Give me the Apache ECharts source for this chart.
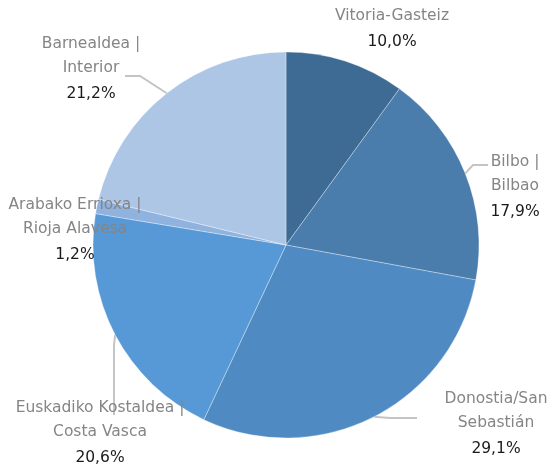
<!DOCTYPE html>
<html>
<head>
<meta charset="utf-8">
<script src="https://cdn.jsdelivr.net/npm/echarts@6/dist/echarts.min.js"></script>
<style>
  html, body { margin: 0; padding: 0; background: #fff; }
  #main { width: 552px; height: 468px; }
</style>
</head>
<body>
<div id="main"></div>
<script>
// datos
var names = ['Vitoria-Gasteiz', 'Bilbo | Bilbao', 'Donostia/San Sebastián',
    'Euskadiko Kostaldea | Costa Vasca', 'Arabako Errioxa | Rioja Alavesa', 'Barnealdea | Interior'];
var labelLines = [
    ['Vitoria-Gasteiz'],
    ['Bilbo |', 'Bilbao'],
    ['Donostia/San', 'Sebastián'],
    ['Euskadiko Kostaldea |', 'Costa Vasca'],
    ['Arabako Errioxa |', 'Rioja Alavesa'],
    ['Barnealdea |', 'Interior']
];
var values = [10.0, 17.9, 29.1, 20.6, 1.2, 21.2];
var colors = ['#3e6b94', '#4a7cac', '#4f8bc2', '#5799d6', '#8fb2df', '#adc6e6'];

// posicion de etiquetas (centro x, top y) y codo / fin de la linea
var labelX = [392, 515, 496, 100, 75, 91];
var labelY = [4, 150, 387, 396, 193, 32];
var lineMid = [null, [473, 165], [390, 418], [114, 345], null, [140, 76]];
var lineEnd = [null, [488, 165], [417, 418], [114, 415], null, [125, 76]];

var chart = echarts.init(document.getElementById('main'));

var seriesData = names.map(function (n, i) {
    return {
        name: n,
        value: values[i],
        itemStyle: { color: colors[i] },
        labelLine: { show: lineMid[i] != null }
    };
});

var option = {
    animation: false,
    series: [{
        type: 'pie',
        center: [286, 245],
        radius: [0, 193],
        startAngle: 90,
        clockwise: true,
        data: seriesData,
        itemStyle: { borderColor: 'rgba(255,255,255,0.55)', borderWidth: 0.6 },
        label: {
            show: true,
            position: 'outside',
            overflow: 'none',
            edgeDistance: 0,
            formatter: function (p) {
                var lines = labelLines[p.dataIndex].map(function (t) { return '{n|' + t + '}'; });
                lines.push('{v|' + p.value.toFixed(1).replace('.', ',') + '%}');
                return lines.join('\n');
            },
            rich: {
                n: { fontFamily: 'DejaVu Sans', fontSize: 15.5, color: '#858585', lineHeight: 24, align: 'center' },
                v: { fontFamily: 'DejaVu Sans', fontSize: 15.5, color: '#1a1a1a', lineHeight: 27, align: 'center' }
            }
        },
        labelLine: {
            show: true,
            length: 10,
            length2: 10,
            lineStyle: { color: '#c4c4c4', width: 2 }
        },
        labelLayout: function (params) {
            var i = params.dataIndex;
            var res = { x: labelX[i], y: labelY[i], align: 'center', verticalAlign: 'top' };
            if (lineMid[i] && params.labelLinePoints) {
                res.labelLinePoints = [params.labelLinePoints[0], lineMid[i], lineEnd[i]];
            }
            return res;
        },
        emphasis: { disabled: true }
    }]
};

chart.setOption(option);
</script>
</body>
</html>
